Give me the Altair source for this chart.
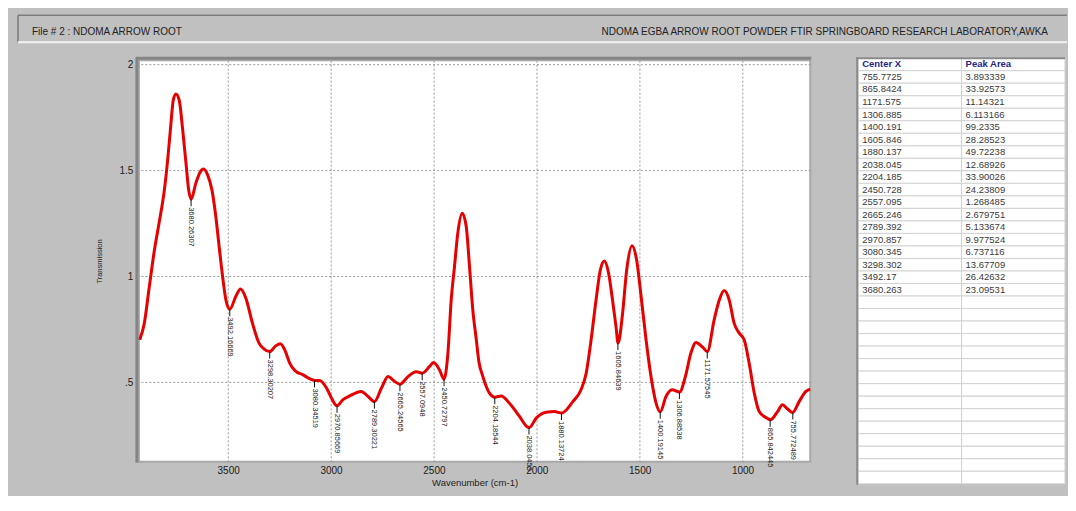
import altair as alt
import pandas as pd

# ---------------- data ----------------
wavenumber = [3930, 3908, 3884, 3859, 3835, 3811, 3794, 3778, 3767, 3754, 3738, 3721, 3705, 3692,
              3680, 3657, 3637, 3620, 3600, 3579, 3560, 3544, 3527, 3511, 3492, 3463, 3440, 3414,
              3382, 3350, 3325, 3298, 3269, 3246, 3225, 3201, 3176, 3136, 3104, 3080, 3055, 3022,
              2998, 2971, 2942, 2909, 2853, 2820, 2789, 2755, 2723, 2691, 2665, 2626, 2586, 2557,
              2521, 2502, 2473, 2451, 2432, 2416, 2400, 2384, 2362, 2343, 2327, 2311, 2294, 2282,
              2262, 2230, 2204, 2173, 2133, 2084, 2049, 2036, 2003, 1954, 1914, 1880, 1825, 1785,
              1760, 1736, 1712, 1691, 1672, 1651, 1632, 1615, 1605, 1583, 1563, 1537, 1515, 1493,
              1469, 1445, 1420, 1400, 1372, 1343, 1306, 1278, 1251, 1226, 1194, 1171, 1138, 1113,
              1089, 1065, 1041, 1016, 992, 968, 943, 919, 887, 865, 830, 806, 781, 756, 725, 692, 671]
transmission = [0.70, 0.775, 0.945, 1.12, 1.255, 1.40, 1.549, 1.722, 1.83, 1.86, 1.83, 1.69, 1.533, 1.407,
                1.363, 1.439, 1.489, 1.505, 1.478, 1.407, 1.281, 1.14, 0.998, 0.888, 0.844, 0.904, 0.939, 0.896,
                0.778, 0.684, 0.656, 0.644, 0.671, 0.681, 0.652, 0.59, 0.555, 0.534, 0.516, 0.508, 0.508, 0.472,
                0.425, 0.388, 0.417, 0.435, 0.456, 0.432, 0.408, 0.472, 0.526, 0.503, 0.49, 0.526, 0.549, 0.542,
                0.574, 0.592, 0.558, 0.514, 0.637, 0.888, 1.045, 1.203, 1.297, 1.234, 1.045, 0.841, 0.70, 0.60,
                0.526, 0.448, 0.429, 0.435, 0.40, 0.338, 0.291, 0.286, 0.33, 0.358, 0.361, 0.354, 0.408, 0.464,
                0.542, 0.70, 0.888, 1.03, 1.072, 1.014, 0.888, 0.762, 0.684, 0.825, 1.03, 1.143, 1.077, 0.904,
                0.70, 0.526, 0.40, 0.36, 0.432, 0.464, 0.453, 0.526, 0.637, 0.687, 0.665, 0.644, 0.794, 0.888,
                0.932, 0.888, 0.778, 0.731, 0.70, 0.59, 0.448, 0.361, 0.333, 0.322, 0.361, 0.393, 0.373, 0.357,
                0.408, 0.456, 0.467]

peak_wn = [3680.26307, 3492.16669, 3298.30207, 3080.34519, 2970.85669, 2789.30221, 2665.24565,
           2557.0948, 2450.72797, 2204.18544, 2038.0453, 1880.13724, 1605.84639, 1400.19145,
           1306.88538, 1171.57545, 865.842445, 755.772489]
peak_t = [1.363, 0.844, 0.644, 0.508, 0.388, 0.408, 0.49, 0.542, 0.514, 0.429, 0.286, 0.354,
          0.684, 0.36, 0.453, 0.644, 0.322, 0.357]
peak_labels = ["3680.26307", "3492.16669", "3298.30207", "3080.34519", "2970.85669", "2789.30221",
               "2665.24565", "2557.0948", "2450.72797", "2204.18544", "2038.0453", "1880.13724",
               "1605.84639", "1400.19145", "1306.88538", "1171.57545", "865.842445", "755.772489"]

table_columns = ["Center X", "Peak Area"]
center_x = ["755.7725", "865.8424", "1171.575", "1306.885", "1400.191", "1605.846", "1880.137",
            "2038.045", "2204.185", "2450.728", "2557.095", "2665.246", "2789.392", "2970.857",
            "3080.345", "3298.302", "3492.17", "3680.263"]
peak_area = ["3.893339", "33.92573", "11.14321", "6.113166", "99.2335", "28.28523", "49.72238",
             "12.68926", "33.90026", "24.23809", "1.268485", "2.679751", "5.133674", "9.977524",
             "6.737116", "13.67709", "26.42632", "23.09531"]
table_row_count = 34

x_ticks = [3500, 3000, 2500, 2000, 1500, 1000]
y_ticks = [0.5, 1, 1.5, 2]
header_left = "File # 2 : NDOMA ARROW ROOT"
header_right = "NDOMA EGBA ARROW ROOT POWDER FTIR SPRINGBOARD RESEARCH LABORATORY,AWKA"
x_title = "Wavenumber (cm-1)"
y_title = "Transmission"

# ---------------- layout ----------------
W, H = 672, 402
FONT = "Liberation Sans"
BG = "#c0c0c0"
RIGHT = 928  # right edge of the whole chart, relative to the plot origin

xs = alt.Scale(domain=[671, 3934], reverse=True, nice=False, zero=False)
ys = alt.Scale(domain=[0.124, 2.019], nice=False, zero=False)

x_enc = alt.X("wn:Q", scale=xs, title=x_title,
              axis=alt.Axis(values=x_ticks, format="d", ticks=False, domain=False, labelPadding=4,
                            labelFontSize=10, labelColor="#1a1a1a", titleFontSize=9.5,
                            titleFontWeight="normal", titleColor="#222", titlePadding=2,
                            grid=True, gridDash=[2, 2], gridColor="#9a9a9a", gridWidth=1))
y_enc = alt.Y("t:Q", scale=ys, title=y_title,
              axis=alt.Axis(values=y_ticks, ticks=False, domain=False, labelPadding=6,
                            labelExpr="datum.value == 0.5 ? '.5' : format(datum.value, '')",
                            labelFontSize=10, labelColor="#1a1a1a", titleFontSize=7.5,
                            titleFontWeight="normal", titleColor="#222", titlePadding=16,
                            grid=True, gridDash=[2, 2], gridColor="#9a9a9a", gridWidth=1))

spec_df = pd.DataFrame({"wn": wavenumber, "t": transmission})
peak_df = pd.DataFrame({"wn": peak_wn, "t": peak_t, "label": peak_labels})

line = alt.Chart(spec_df).mark_line(color="#e60000", strokeWidth=3, interpolate="monotone").encode(
    x=x_enc, y=y_enc, order=alt.Order("wn:Q", sort="descending"))

peak_ticks = alt.Chart(peak_df).mark_rule(color="#111", strokeWidth=1, y2Offset=7).encode(
    x=x_enc, y=y_enc, y2=alt.Y2("t:Q"))

peak_text = alt.Chart(peak_df).mark_text(angle=90, align="left", baseline="middle", yOffset=8,
                                         font=FONT, fontSize=7.5, color="#222").encode(
    x=x_enc, y=y_enc, text="label:N")

spectrum = alt.layer(line, peak_ticks, peak_text)

# ---------------- table ----------------
rows, cols, texts, heads = [], [], [], []
for r in range(table_row_count):
    for c in range(2):
        rows.append(r)
        cols.append(c)
        heads.append(1 if r == 0 else 0)
        if r == 0:
            texts.append(table_columns[c])
        elif r - 1 < len(center_x):
            texts.append(center_x[r - 1] if c == 0 else peak_area[r - 1])
        else:
            texts.append("")
tab_df = pd.DataFrame({"row": rows, "col": cols, "txt": texts, "head": heads})

tx = alt.Scale(domain=[0, 1], range=[720, RIGHT - 1], paddingInner=0, paddingOuter=0)
ty = alt.Scale(domain=list(range(table_row_count)), range=[-2, 424], paddingInner=0, paddingOuter=0)

cells = alt.Chart(tab_df).mark_rect(fill="white", stroke="#d2d2d2", strokeWidth=1).encode(
    x=alt.X("col:O", scale=tx, axis=None), y=alt.Y("row:O", scale=ty, axis=None))
head_text = alt.Chart(tab_df).transform_filter("datum.head == 1").mark_text(
    align="left", baseline="middle", dx=4, font=FONT, fontSize=9.5, fontWeight="bold",
    color="#26268a").encode(
    x=alt.X("col:O", scale=tx, axis=None, bandPosition=0),
    y=alt.Y("row:O", scale=ty, axis=None),
    text="txt:N")
body_text = alt.Chart(tab_df).transform_filter("datum.head == 0").mark_text(
    align="left", baseline="middle", dx=4, font=FONT, fontSize=9.5, color="#3a3a3a").encode(
    x=alt.X("col:O", scale=tx, axis=None, bandPosition=0),
    y=alt.Y("row:O", scale=ty, axis=None),
    text="txt:N")
table = alt.layer(cells, head_text, body_text)

# ---------------- decorations (header bar, frames) ----------------
one = pd.DataFrame({"k": [0]})


def hrule(x1, x2, y, color, w):
    return alt.Chart(one).mark_rule(color=color, strokeWidth=w).encode(
        x=alt.value(x1), x2=alt.value(x2), y=alt.value(y))


def vrule(x, y1, y2, color, w):
    return alt.Chart(one).mark_rule(color=color, strokeWidth=w).encode(
        x=alt.value(x), y=alt.value(y1), y2=alt.value(y2))


bounds = alt.Chart(one).mark_rect(opacity=0).encode(
    x=alt.value(-131), x2=alt.value(RIGHT + 1), y=alt.value(-52), y2=alt.value(436))

header_l = alt.Chart(one).mark_text(align="left", baseline="middle", font=FONT, fontSize=10,
                                    color="#222").encode(
    x=alt.value(-107), y=alt.value(-28), text=alt.value(header_left))
header_r = alt.Chart(one).mark_text(align="right", baseline="middle", font=FONT, fontSize=10,
                                    color="#222").encode(
    x=alt.value(910), y=alt.value(-28), text=alt.value(header_right))

decor = alt.layer(
    bounds,
    hrule(-121, RIGHT + 1, -45, "#7c7c7c", 1.5),
    vrule(-121, -45, -18, "#7c7c7c", 1.5),
    hrule(-121, RIGHT + 1, -18, "#f4f4f4", 2),
    header_l, header_r,
    vrule(-2, -3, 403, "#858585", 3),
    hrule(-3, 673, -2, "#858585", 3),
    vrule(719, -3, 425, "#8a8a8a", 2),
    hrule(718, RIGHT - 1, -2, "#8a8a8a", 2),
)

chart = alt.layer(spectrum, table, decor).resolve_scale(
    x="independent", y="independent"
).properties(
    width=W, height=H, padding=0
).configure(
    background=BG, font=FONT
).configure_view(
    fill="white", stroke="#a8a8a8", strokeWidth=2
)

chart.save("out.html", embed_options={"renderer": "svg", "actions": False})
